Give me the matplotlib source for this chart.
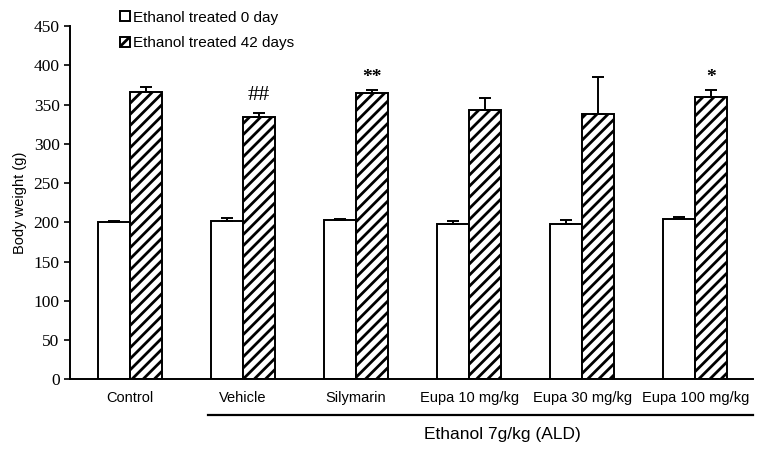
import numpy as np
import matplotlib
matplotlib.use("Agg")
import matplotlib.pyplot as plt
import matplotlib.transforms as mtransforms

groups = ["Control", "Vehicle", "Silymarin", "Eupa 10 mg/kg", "Eupa 30 mg/kg", "Eupa 100 mg/kg"]
day0 = [200, 202, 203, 198, 198, 204]
day0_err = [2, 3, 1, 4, 5, 3]
day42 = [366, 334, 365, 343, 338, 360]
day42_err = [6, 5, 4, 15, 47, 9]
marks = ["", "##", "**", "", "", "*"]
mark_y = [0, 362, 385, 0, 0, 385]

plt.rcParams["hatch.linewidth"] = 2.0
plt.rcParams["font.family"] = ["Liberation Sans", "DejaVu Sans"]

fig = plt.figure(figsize=(7.59, 4.5), dpi=100)
ax = fig.add_axes([0.0922, 0.1567, 0.8998, 0.7853])

x = np.arange(len(groups))
w = 0.285
ax.bar(x - w / 2, day0, w, color="white", edgecolor="black", linewidth=1.4,
       label="Ethanol treated 0 day", zorder=2)
ax.bar(x + w / 2, day42, w, color="white", edgecolor="black", linewidth=1.4,
       hatch="///", label="Ethanol treated 42 days", zorder=2)
ax.errorbar(x - w / 2, day0, yerr=[np.zeros(len(x)), day0_err], fmt="none",
            ecolor="black", elinewidth=1.4, capsize=4, capthick=1.4, zorder=3)
ax.errorbar(x + w / 2, day42, yerr=[np.zeros(len(x)), day42_err], fmt="none",
            ecolor="black", elinewidth=1.4, capsize=4, capthick=1.4, zorder=3)

for xi, m, my in zip(x, marks, mark_y):
    if m:
        star = "*" in m
        ax.text(xi + w / 2, my, m, ha="center", va="center",
                fontsize=14 if star else 16, family="Liberation Serif",
                fontweight="bold" if star else "normal")

ax.set_xlim(-0.53, 5.51)
ax.set_ylim(0, 450)
ax.set_yticks(np.arange(0, 451, 50))
ax.set_xticks(x)
ax.set_xticklabels(groups, fontsize=10.5)
ax.tick_params(axis="x", length=0, pad=8)
ax.tick_params(axis="y", length=4, width=1.2, labelsize=12.5)
for lbl in ax.get_yticklabels():
    lbl.set_family("Liberation Serif")
ax.set_ylabel("Body weight (g)", fontsize=10.5, labelpad=5)
for s in ["top", "right"]:
    ax.spines[s].set_visible(False)
for s in ["left", "bottom"]:
    ax.spines[s].set_linewidth(1.4)

# group bracket for ethanol-treated groups
trans = mtransforms.blended_transform_factory(ax.transData, ax.transAxes)
ax.plot([0.69, 5.51], [-0.10, -0.10], color="black", lw=1.6, transform=trans, clip_on=False)
ax.text(3.29, -0.157, "Ethanol 7g/kg (ALD)", transform=trans, ha="center", va="center",
        fontsize=12.5)

fig.legend(loc="upper left", bbox_to_anchor=(0.150, 0.99), frameon=False, fontsize=11,
           handlelength=0.65, handleheight=0.65, handletextpad=0.2, labelspacing=0.75,
           borderaxespad=0)

fig.savefig("out.png", dpi=100)
